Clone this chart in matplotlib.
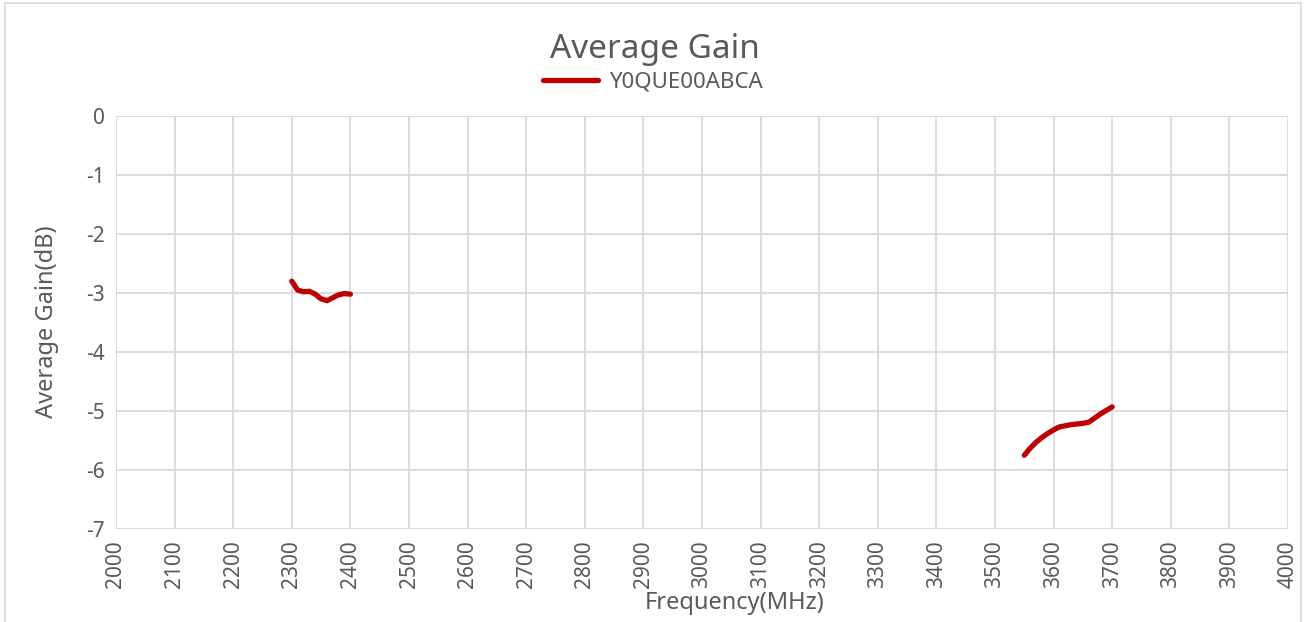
import matplotlib.pyplot as plt
import numpy as np

# Frequency (MHz) and average gain (dB)
freq_low = [2300, 2310, 2320, 2330, 2340, 2350, 2360, 2370, 2380, 2390, 2400]
gain_low = [-2.80, -2.95, -2.98, -2.97, -3.02, -3.10, -3.13, -3.08, -3.03, -3.01, -3.02]

freq_high = [3550, 3560, 3570, 3580, 3590, 3600, 3610, 3620, 3630, 3640,
             3650, 3660, 3670, 3680, 3690, 3700]
gain_high = [-5.75, -5.63, -5.53, -5.45, -5.38, -5.32, -5.27, -5.25, -5.23, -5.22,
             -5.21, -5.19, -5.12, -5.05, -4.99, -4.93]

series_name = "Y0QUE00ABCA"
x_ticks = list(range(2000, 4001, 100))
y_ticks = list(range(-7, 1))

plt.rcParams['font.family'] = ['Noto Sans', 'DejaVu Sans']
plt.rcParams['axes.unicode_minus'] = False
text_color = '#595959'
grid_color = '#d9d9d9'
line_color = '#c00000'

W, H = 1307, 622
fig = plt.figure(figsize=(W / 100, H / 100), dpi=100)
ax = fig.add_axes([116 / W, 1 - 529 / H, (1288 - 116) / W, (529 - 116) / H])

# gaps between the two bands: plot with NaN separator so it's one series
freq = freq_low + [np.nan] + freq_high
gain = gain_low + [np.nan] + gain_high
line, = ax.plot(freq, gain, color=line_color, linewidth=3.8,
                solid_capstyle='round', solid_joinstyle='round', label=series_name)

ax.set_xlim(2000, 4000)
ax.set_ylim(-7, 0)
ax.set_xticks(x_ticks)
ax.set_yticks(y_ticks)
ax.set_xticklabels([str(t) for t in x_ticks], rotation=90)
ax.tick_params(length=0, labelsize=15, labelcolor=text_color, pad=8)
ax.grid(True, color=grid_color, linewidth=1.3)
ax.set_axisbelow(True)
for s in ax.spines.values():
    s.set_visible(False)
ax.axhline(-7, color=grid_color, linewidth=1.3, zorder=0)

fig.text(47 / W, 1 - 322 / H, "Average Gain(dB)", rotation=90, ha='center', va='center',
         fontsize=17, color=text_color)
fig.text(735 / W, 1 - 603 / H, "Frequency(MHz)", ha='center', va='center',
         fontsize=17, color=text_color)
fig.text(655 / W, 1 - 49 / H, "Average Gain", ha='center', va='center',
         fontsize=24, color=text_color)

fig.legend(handles=[line], loc='center', bbox_to_anchor=(653 / W, 1 - 82 / H),
           frameon=False, fontsize=16, labelcolor=text_color,
           handlelength=2.5, handletextpad=0.5)

# chart border
fig.add_artist(plt.Line2D([5 / W, 5 / W], [0, 1 - 3 / H], color=grid_color, lw=1.2,
                          transform=fig.transFigure))
fig.add_artist(plt.Line2D([5 / W, 1301 / W], [1 - 3 / H, 1 - 3 / H], color=grid_color, lw=1.2,
                          transform=fig.transFigure))
fig.add_artist(plt.Line2D([1301 / W, 1301 / W], [0, 1 - 3 / H], color=grid_color, lw=1.2,
                          transform=fig.transFigure))

fig.savefig("out.png", dpi=100, facecolor='white')
